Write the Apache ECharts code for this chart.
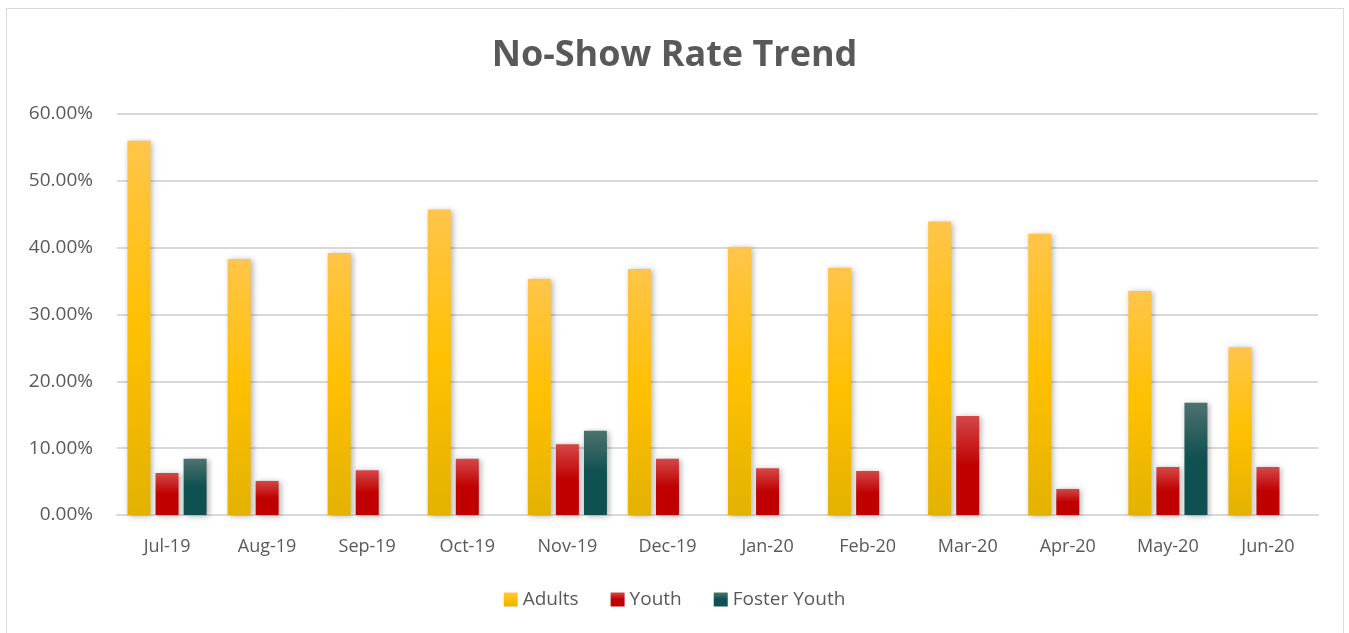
<!DOCTYPE html>
<html>
<head>
<meta charset="utf-8">
<script src="https://cdn.jsdelivr.net/npm/echarts@6/dist/echarts.min.js"></script>
<style>
html, body { margin: 0; padding: 0; background: #fff; }
#chart { width: 1349px; height: 633px; }
</style>
</head>
<body>
<div id="chart"></div>
<script>
var months = ['Jul-19', 'Aug-19', 'Sep-19', 'Oct-19', 'Nov-19', 'Dec-19', 'Jan-20', 'Feb-20', 'Mar-20', 'Apr-20', 'May-20', 'Jun-20'];
var adults = [56.0, 38.3, 39.2, 45.7, 35.3, 36.8, 40.1, 37.0, 43.9, 42.1, 33.5, 25.1];
var youth = [6.3, 5.1, 6.7, 8.4, 10.6, 8.4, 7.0, 6.6, 14.8, 3.9, 7.2, 7.2];
var fosterYouth = [8.4, 0, 0, 0, 12.6, 0, 0, 0, 0, 0, 16.8, 0];

function grad(top, mid, bottom) {
    return new echarts.graphic.LinearGradient(0, 0, 0, 1, [
        {offset: 0, color: top},
        {offset: 0.5, color: mid},
        {offset: 1, color: bottom}
    ]);
}

var shadow = {
    shadowBlur: 6,
    shadowColor: 'rgba(0, 0, 0, 0.3)',
    shadowOffsetX: 2,
    shadowOffsetY: 1
};

function barSeries(name, data, color) {
    return {
        name: name,
        type: 'bar',
        data: data,
        barWidth: 23,
        barGap: '22%',
        itemStyle: Object.assign({color: color}, shadow)
    };
}

var labelFont = '"Open Sans", Lato, sans-serif';

var chart = echarts.init(document.getElementById('chart'));
chart.setOption({
    animation: false,
    textStyle: {fontFamily: labelFont},
    graphic: [{
        type: 'rect',
        shape: {x: 6.5, y: 8.5, width: 1337, height: 640},
        style: {fill: 'none', stroke: '#d9d9d9', lineWidth: 1}
    }],
    title: {
        text: 'No-Show Rate Trend',
        left: 'center',
        top: 33,
        textStyle: {fontSize: 36, fontWeight: 'bold', color: '#595959', fontFamily: '"Open Sans", Lato, sans-serif'}
    },
    legend: {
        bottom: 19,
        left: 'center',
        itemWidth: 14,
        itemHeight: 14,
        itemGap: 32,
        icon: 'rect',
        textStyle: {fontSize: 19, color: '#595959', fontFamily: labelFont},
        data: ['Adults', 'Youth', 'Foster Youth']
    },
    grid: {left: 117, right: 31, top: 114, bottom: 118},
    xAxis: {
        type: 'category',
        data: months,
        axisLine: {lineStyle: {color: '#d9d9d9', width: 2}},
        axisTick: {show: false},
        axisLabel: {fontSize: 18, color: '#595959', margin: 23, fontFamily: labelFont}
    },
    yAxis: {
        type: 'value',
        min: 0,
        max: 60,
        interval: 10,
        axisLine: {show: false},
        axisTick: {show: false},
        splitLine: {lineStyle: {color: '#d9d9d9', width: 2}},
        axisLabel: {
            fontSize: 19,
            color: '#595959',
            margin: 24,
            fontFamily: labelFont,
            formatter: function(v) { return v.toFixed(2) + '%'; }
        }
    },
    series: [
        barSeries('Adults', adults, grad('#ffc54a', '#ffc000', '#e3b200')),
        barSeries('Youth', youth, grad('#d44848', '#c00000', '#c00000')),
        barSeries('Foster Youth', fosterYouth, grad('#4d7270', '#0f5050', '#0f5050'))
    ]
});
</script>
</body>
</html>
